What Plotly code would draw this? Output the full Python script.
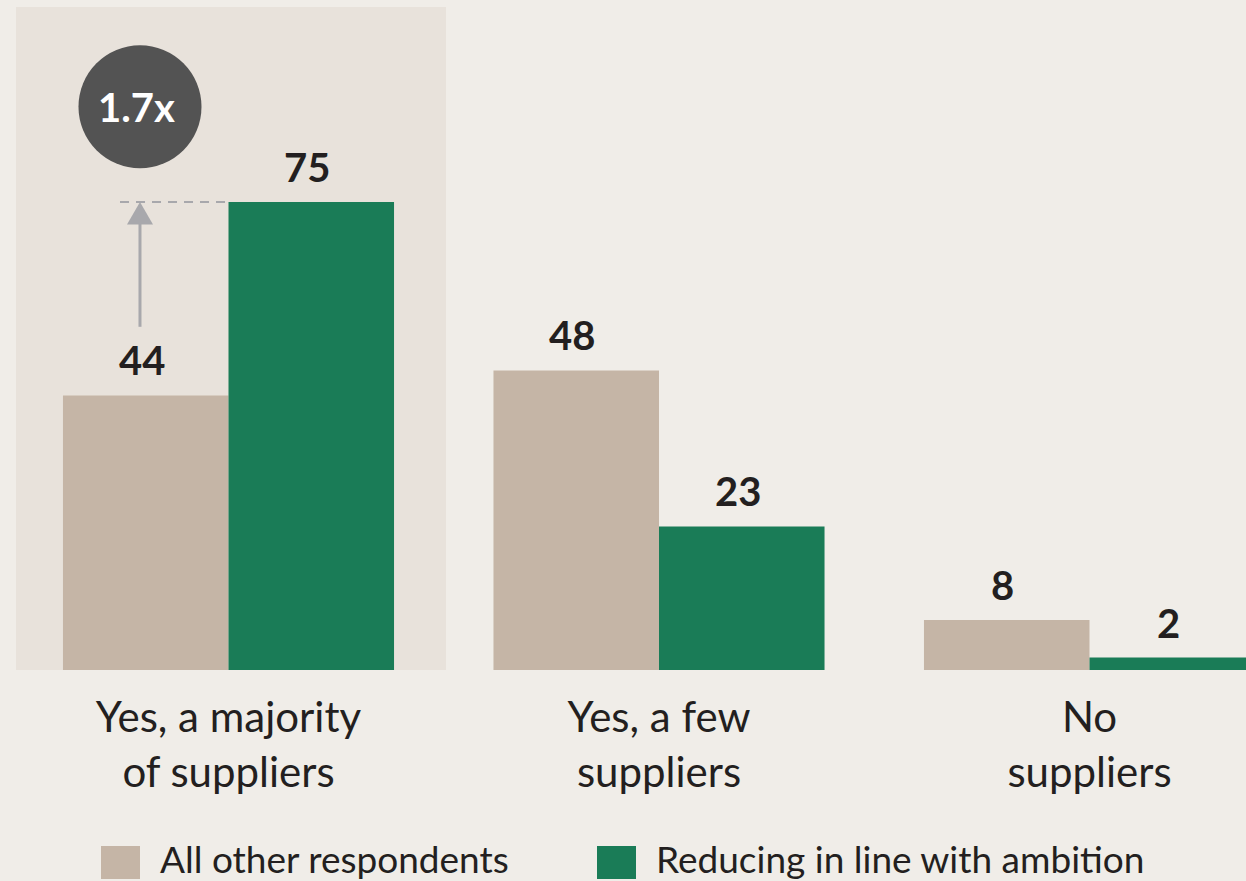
import plotly.graph_objects as go

# Survey answers and the share (%) of each respondent group
categories = ["Yes, a majority<br>of suppliers", "Yes, a few<br>suppliers", "No<br>suppliers"]
series_names = ["All other respondents", "Reducing in line with ambition"]
all_other = [44, 48, 8]
reducing = [75, 23, 2]

BG = "#F0EDE8"
HIGHLIGHT = "#E8E2DB"
BEIGE = "#C5B5A6"
GREEN = "#1A7C57"
INK = "#231F20"
GREY = "#A8A8AC"
FONT = "Lato"

W, H = 1246, 881
BASE = 670  # pixel row of the bar baseline
x_pos = list(range(len(categories)))


def py(pixel_y):
    """paper y coordinate for a pixel row of the page"""
    return (BASE - pixel_y) / BASE


fig = go.Figure()
fig.add_trace(go.Bar(x=x_pos, y=all_other, name=series_names[0],
                     marker=dict(color=BEIGE, line=dict(width=0)), showlegend=False))
fig.add_trace(go.Bar(x=x_pos, y=reducing, name=series_names[1],
                     marker=dict(color=GREEN, line=dict(width=0)), showlegend=False))

# value labels above each bar
half = 0.1922
for i in x_pos:
    for v, dx in ((all_other[i], -half), (reducing[i], half)):
        fig.add_annotation(x=i + dx, y=v, text=f"<b>{v}</b>", showarrow=False,
                           xref="x", yref="y", yanchor="bottom", yshift=9, xshift=-4,
                           font=dict(family=FONT, size=40, color=INK))

# highlighted first group
fig.add_shape(type="rect", xref="x", yref="y", x0=-0.4936, x1=0.5052, y0=0, y1=106.25,
              fillcolor=HIGHLIGHT, line=dict(width=0), layer="below")

# arrow from the lower bar up to the level of the higher bar
ax = -0.2056
lo, hi = all_other[0], reducing[0]
fig.add_shape(type="line", xref="x", yref="y", x0=-0.2520, x1=0.0, y0=hi, y1=hi,
              line=dict(color=GREY, width=2, dash="9px,7px"))
fig.add_shape(type="line", xref="x", yref="y", x0=ax, x1=ax, y0=55.0, y1=hi - 3.0,
              line=dict(color=GREY, width=3))
fig.add_shape(type="path", xref="x", yref="y",
              path=f"M {ax - 0.0302} {hi - 3.6} L {ax + 0.0302} {hi - 3.6} L {ax} {hi} Z",
              fillcolor=GREY, line=dict(width=0))

# ratio badge
fig.add_shape(type="circle", xref="x", yref="y", xsizemode="pixel", ysizemode="pixel",
              xanchor=ax, yanchor=90.27, x0=-61.5, x1=61.5, y0=-61.5, y1=61.5,
              fillcolor="#535353", line=dict(width=0))
fig.add_annotation(x=ax, y=90.27, xref="x", yref="y", text=f"<b>{hi / lo:.1f}x</b>",
                   showarrow=False, xshift=-3, font=dict(family=FONT, size=40, color="white"))

# legend
legend_items = [(series_names[0], BEIGE, 101), (series_names[1], GREEN, 597)]
for name, color, px in legend_items:
    fig.add_shape(type="rect", xref="paper", yref="paper",
                  x0=px / W, x1=(px + 39) / W, y0=py(879), y1=py(846),
                  fillcolor=color, line=dict(width=0))
    fig.add_annotation(x=(px + 57) / W, y=py(858), xref="paper", yref="paper",
                       text=name, showarrow=False, xanchor="left", yanchor="middle",
                       font=dict(family=FONT, size=37, color=INK))

px_per_unit = 468 / 75
fig.update_layout(
    width=W, height=H,
    margin=dict(l=0, r=0, t=0, b=H - BASE, pad=0),
    paper_bgcolor=BG, plot_bgcolor="rgba(0,0,0,0)",
    barmode="group", bargap=0.231, bargroupgap=0,
    font=dict(family=FONT, color=INK),
    xaxis=dict(range=[-228.5 / 430.5, (W - 228.5) / 430.5], tickvals=x_pos,
               ticktext=categories, showgrid=False, zeroline=False, showline=False,
               ticks="", tickfont=dict(family=FONT, size=42, color=INK),
               ticklabelstandoff=19, fixedrange=True),
    yaxis=dict(range=[0, BASE / px_per_unit], visible=False, fixedrange=True),
    showlegend=False,
)

fig.write_html("out.html", config={"displayModeBar": False})
